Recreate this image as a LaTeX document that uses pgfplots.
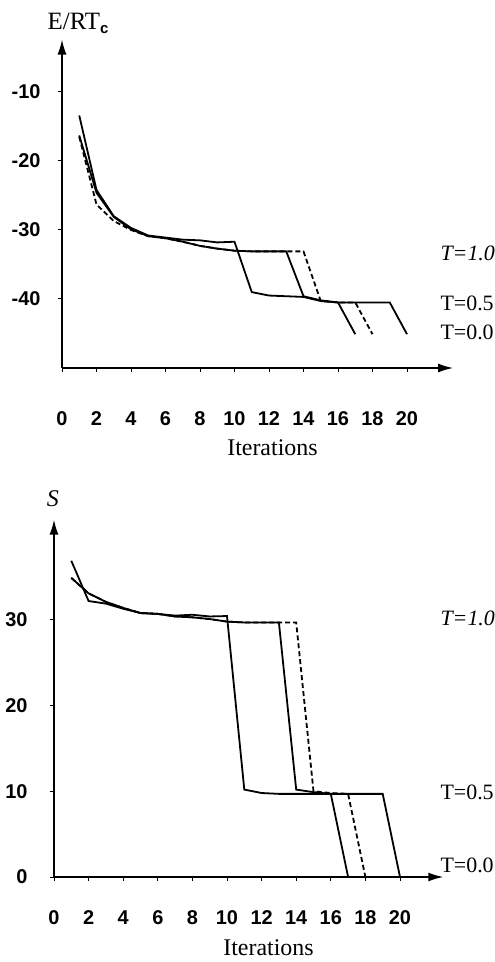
\documentclass[border=0pt]{standalone}
\usepackage{fontspec}
\setmainfont{Liberation Serif}
\newfontfamily\tickfont{Liberation Sans}
\usepackage{pgfplots}
\pgfplotsset{compat=1.18}
\usetikzlibrary{arrows.meta}

\pgfplotsset{
  panel/.style={
    axis lines=left,
    anchor=south west,
    clip=false,
    axis line style={line width=1.5bp, -{Latex[length=15bp,width=9bp]}},
    tick align=outside,
    major tick length=4bp,
    tick style={line width=1bp, black},
    ticklabel style={font=\tickfont\bfseries\fontsize{20}{20}\selectfont},
    /pgf/number format/assume math mode=true,
    xtick={0,2,...,20},
  },
  solidline/.style={black, solid, mark=none, line width=1.8bp},
  dashline/.style={black, mark=none, line width=1.8bp, dash pattern=on 5bp off 3bp},
}

\begin{document}
\begin{tikzpicture}
\useasboundingbox (0,0) rectangle (495bp,962bp);

% energy panel
\begin{axis}[panel,
  at={(62bp,594bp)}, x=17.25bp, y=6.9bp,
  xmin=0, xmax=22.67, ymin=-50, ymax=-2.4,
  ytick={-40,-30,-20,-10},
  xticklabel style={anchor=center, yshift=-47bp},
  yticklabel style={anchor=east, xshift=-14bp},
]
\addplot[dashline] coordinates {
  (1,-16.5) (2,-26.3) (3,-28.7) (4,-30.0) (5,-30.9) (6,-31.2) (7,-31.7)
  (8,-32.3) (9,-32.7) (10,-33.0) (11,-33.1) (12,-33.1) (13,-33.1) (14,-33.1)
  (15,-40.3) (16,-40.5) (17,-40.5) (18,-45.1)};
\addplot[solidline] coordinates {
  (1,-13.4) (2,-24.2) (3,-28.0) (4,-29.7) (5,-30.8) (6,-31.1) (7,-31.4)
  (8,-31.5) (9,-31.8) (10,-31.7) (11,-39.0) (12,-39.5) (13,-39.6) (14,-39.7)
  (15,-40.3) (16,-40.5) (17,-40.5) (18,-40.5) (19,-40.5) (20,-45.1)};
\addplot[solidline] coordinates {
  (1,-16.3) (2,-24.6) (3,-28.1) (4,-29.9) (5,-30.9) (6,-31.2) (7,-31.7)
  (8,-32.3) (9,-32.7) (10,-33.0) (11,-33.1) (12,-33.1) (13,-33.1)
  (14,-39.6) (15,-40.2) (16,-40.5) (17,-45.1)};
\node[font=\fontsize{25}{25}\selectfont] at (axis cs:0.93,0) {E/RT\raisebox{-0.35ex}{\tickfont\bfseries\fontsize{15}{15}\selectfont c}};
\node[font=\fontsize{24}{24}\selectfont] at (axis cs:12.2,-61.5) {Iterations};
\node[anchor=west, font=\fontsize{22}{22}\selectfont\itshape] at (axis cs:21.74,-33.4) {T=1.0};
\node[anchor=west, font=\fontsize{22}{22}\selectfont] at (axis cs:21.74,-40.6) {T=0.5};
\node[anchor=west, font=\fontsize{22}{22}\selectfont] at (axis cs:21.74,-44.8) {T=0.0};
\end{axis}

% entropy panel
\begin{axis}[panel,
  at={(54bp,85bp)}, x=17.3bp, y=8.57bp,
  xmin=0, xmax=22.5, ymin=0, ymax=41.7,
  ytick={0,10,20,30},
  xticklabel style={anchor=center, yshift=-37bp},
  yticklabel style={anchor=east, xshift=-19bp},
]
\addplot[dashline] coordinates {
  (1,34.9) (2,33.1) (3,32.1) (4,31.4) (5,30.8) (6,30.7) (7,30.4) (8,30.3)
  (9,30.1) (10,29.8) (11,29.7) (12,29.7) (13,29.7) (14,29.7)
  (15,10.0) (16,9.8) (17,9.7) (18,0)};
\addplot[solidline] coordinates {
  (1,36.9) (2,32.2) (3,31.9) (4,31.3) (5,30.8) (6,30.7) (7,30.5) (8,30.6)
  (9,30.4) (10,30.45) (11,10.2) (12,9.8) (13,9.7) (14,9.7) (15,9.7)
  (16,9.7) (17,9.7) (18,9.7) (19,9.7) (20,0)};
\addplot[solidline] coordinates {
  (1,34.9) (2,33.1) (3,32.1) (4,31.4) (5,30.8) (6,30.7) (7,30.4) (8,30.3)
  (9,30.1) (10,29.8) (11,29.7) (12,29.7) (13,29.7)
  (14,10.2) (15,9.9) (16,9.7) (17,0)};
\node[font=\fontsize{24}{24}\selectfont\itshape] at (axis cs:-0.06,44.2) {S};
\node[font=\fontsize{24}{24}\selectfont] at (axis cs:12.4,-8.2) {Iterations};
\node[anchor=west, font=\fontsize{22}{22}\selectfont\itshape] at (axis cs:22.14,30.2) {T=1.0};
\node[anchor=west, font=\fontsize{22}{22}\selectfont] at (axis cs:22.14,9.9) {T=0.5};
\node[anchor=west, font=\fontsize{22}{22}\selectfont] at (axis cs:22.14,1.4) {T=0.0};
\end{axis}
\end{tikzpicture}
\end{document}
